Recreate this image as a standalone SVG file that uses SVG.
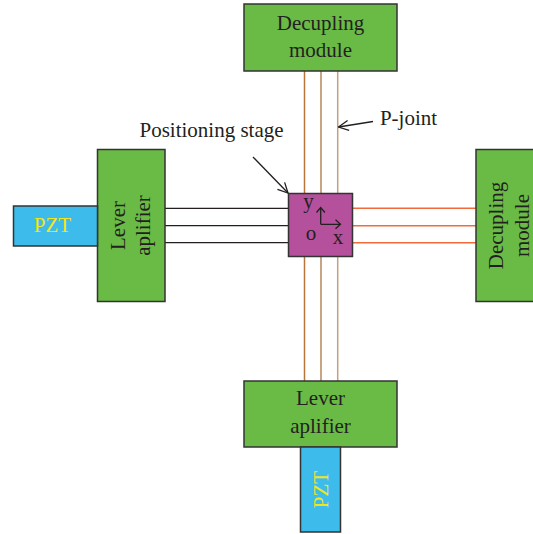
<svg xmlns="http://www.w3.org/2000/svg" width="533" height="534" viewBox="0 0 533 534">
<style>
.g{fill:#6abb45;stroke:#333;stroke-width:1.5}
.b{fill:#3dbcec;stroke:#333;stroke-width:1.5}
.m{fill:#b5509c;stroke:#333;stroke-width:1.5}
text{font-family:"Liberation Serif",serif;font-size:21px;fill:#231f20;text-anchor:middle}
.y{fill:#f2e51d}
.bl{stroke:#231f20;stroke-width:1.3;fill:none}
.or{stroke:#f26a3a;stroke-width:1.5;fill:none}
.j1{stroke:#b8753a;stroke-width:1.5}
.j2{stroke:#b5865a;stroke-width:1.5}
.j3{stroke:#c4a07c;stroke-width:1.5}
.ar{stroke:#231f20;stroke-width:1.3;fill:none}
</style>
<defs>
<marker id="oa" viewBox="0 0 12 12" refX="11" refY="6" markerWidth="12" markerHeight="12" markerUnits="userSpaceOnUse" orient="auto">
<path d="M1,1 L11,6 L1,11" fill="none" stroke="#231f20" stroke-width="1.3"/>
</marker>
</defs>
<g id="connectors">
<line class="j1" x1="304.5" y1="71" x2="304.5" y2="193"/>
<line class="j2" x1="321" y1="71" x2="321" y2="193"/>
<line class="j3" x1="337.7" y1="71" x2="337.7" y2="193"/>
<line class="j1" x1="304.5" y1="257" x2="304.5" y2="381"/>
<line class="j2" x1="321" y1="257" x2="321" y2="381"/>
<line class="j3" x1="337.7" y1="257" x2="337.7" y2="381"/>
<line class="bl" x1="165" y1="208.3" x2="288" y2="208.3"/>
<line class="bl" x1="165" y1="225.7" x2="288" y2="225.7"/>
<line class="bl" x1="165" y1="242.7" x2="288" y2="242.7"/>
<line class="or" x1="353" y1="208.3" x2="476" y2="208.3"/>
<line class="or" x1="353" y1="225.7" x2="476" y2="225.7"/>
<line class="or" x1="353" y1="242.7" x2="476" y2="242.7"/>
<line class="ar" x1="373" y1="121.5" x2="338.5" y2="127" marker-end="url(#oa)"/>
<line class="ar" x1="253" y1="157" x2="288" y2="193" marker-end="url(#oa)"/>
</g>
<g id="decoupling-top">
<rect class="g" x="244" y="4" width="153" height="67"/>
<text x="320.5" y="30">Decupling</text>
<text x="320.5" y="56.5">module</text>
</g>
<g id="decoupling-right">
<rect class="g" x="476" y="149.5" width="70" height="152"/>
<text transform="translate(510,225.5) rotate(-90)"><tspan x="0" y="-7.5">Decupling</tspan><tspan x="0" y="18.5">module</tspan></text>
</g>
<g id="lever-left">
<rect class="g" x="97.5" y="149.5" width="67.5" height="152"/>
<text transform="translate(131,225.5) rotate(-90)"><tspan x="0" y="-6.5">Lever</tspan><tspan x="0" y="19">aplifier</tspan></text>
</g>
<g id="pzt-left">
<rect class="b" x="13.5" y="206" width="84" height="40"/>
<text class="y" x="52.5" y="232">PZT</text>
</g>
<g id="lever-bottom">
<rect class="g" x="244" y="381" width="153" height="66"/>
<text x="320.5" y="405">Lever</text>
<text x="320.5" y="432.5">aplifier</text>
</g>
<g id="pzt-bottom">
<rect class="b" x="300.5" y="447" width="40" height="85"/>
<text class="y" transform="translate(320.5,489.5) rotate(-90)" x="0" y="7.5">PZT</text>
</g>
<g id="positioning-stage">
<rect class="m" x="288.5" y="193.5" width="64" height="63"/>
<text x="308.5" y="208">y</text>
<text x="311" y="240">o</text>
<text x="338" y="244">x</text>
<path class="ar" d="M320.7,224.3 V208 M320.7,224.3 H340" />
<path class="ar" d="M316.5,212.5 L320.7,207.5 L324.9,212.5 M335.5,219.8 L340.5,224.3 L335.5,228.8"/>
</g>
<g id="labels">
<text x="211.5" y="137">Positioning stage</text>
<text x="408.5" y="125">P-joint</text>
</g>
</svg>
